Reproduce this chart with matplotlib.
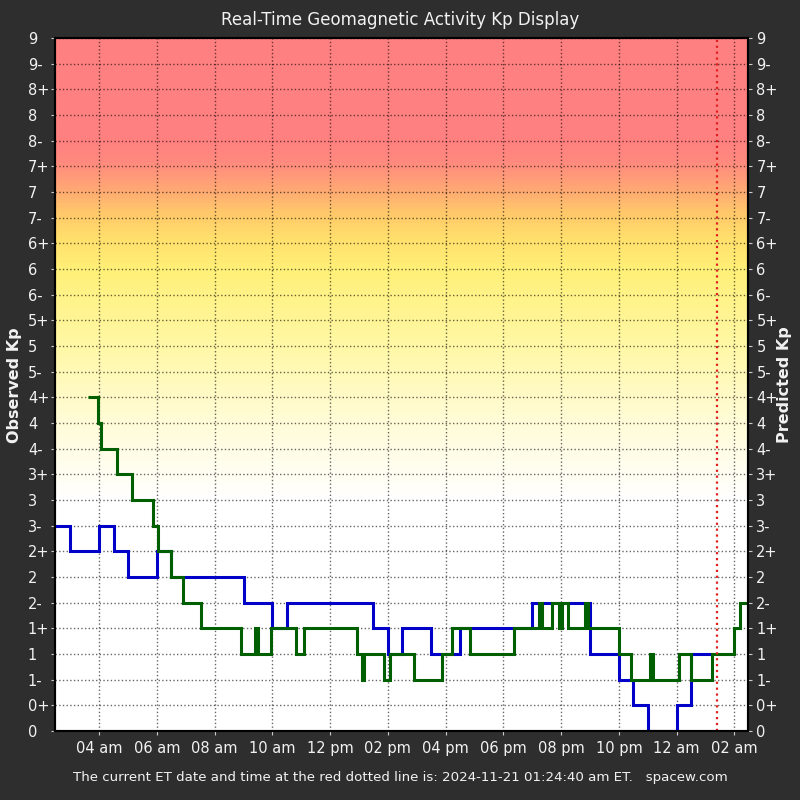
"""Real-time Kp display: observed vs predicted geomagnetic activity over the last day."""

import matplotlib

matplotlib.use("Agg")

import matplotlib.pyplot as plt
import numpy as np
from matplotlib.colors import LinearSegmentedColormap

# Kp levels in thirds, bottom to top
KP_LABELS = [
    "0", "0+", "1-", "1", "1+", "2-", "2", "2+", "3-", "3", "3+", "4-", "4", "4+",
    "5-", "5", "5+", "6-", "6", "6+", "7-", "7", "7+", "8-", "8", "8+", "9-", "9",
]

# Hours since 2024-11-20 00:00 ET
HOUR_TICKS = [4, 6, 8, 10, 12, 14, 16, 18, 20, 22, 24, 26]
HOUR_LABELS = [
    "04 am", "06 am", "08 am", "10 am", "12 pm", "02 pm",
    "04 pm", "06 pm", "08 pm", "10 pm", "12 am", "02 am",
]

# Observed Kp (green): start hour of each step
obs_start = [
    3.63, 3.97, 4.08, 4.63, 5.12, 5.85, 6.02, 6.5, 6.92, 7.54,
    8.90, 9.38, 9.49, 9.94, 10.80, 11.08, 12.92, 13.09, 13.16, 13.85,
    14.06, 14.89, 15.86, 16.21, 16.83, 18.36, 19.23, 19.33, 19.68, 19.92,
    20.02, 20.23, 20.82, 20.92, 22.0, 22.41, 23.07, 23.18, 24.08, 24.5,
    25.22, 25.98, 26.19,
]
obs_kp = [
    "4+", "4", "4-", "3+", "3", "3-", "2+", "2", "2-", "1+",
    "1", "1+", "1", "1+", "1", "1+", "1", "1-", "1", "1-",
    "1", "1-", "1", "1+", "1", "1+", "2-", "1+", "2-", "1+",
    "2-", "1+", "2-", "1+", "1", "1-", "1", "1-", "1", "1-",
    "1", "1+", "2-",
]
obs_end = 26.47

# Predicted Kp (blue): start hour of each step
pred_start = [
    2.47, 3.0, 4.0, 4.5, 5.0, 6.0, 6.5, 9.0, 10.0, 10.5, 13.5,
    14.0, 14.5, 15.5, 16.5, 19.0, 21.0, 22.0, 22.5, 23.0, 24.0, 24.5,
]
pred_kp = [
    "3-", "2+", "3-", "2+", "2", "2+", "2", "2-", "1+", "2-", "1+",
    "1", "1+", "1", "1+", "2-", "1", "1-", "0+", "0", "0+", "1",
]
pred_end = 25.27

now_hour = 25 + 24 / 60 + 40 / 3600  # 2024-11-21 01:24:40 am ET
x_range = (2.47, 26.47)

# Background shading by Kp level
_BG_STOPS = [
    (0.0, "#ffffff"),
    (3.0, "#ffffff"),
    (4.0, "#fffcd8"),
    (5.0, "#fff8a6"),
    (6.0, "#fff078"),
    (6.4, "#ffe06c"),
    (6.75, "#ffc86a"),
    (7.05, "#ffa874"),
    (7.4, "#ff8a7e"),
    (7.7, "#ff8080"),
    (9.0, "#ff8080"),
]

FIG_BG = "#2e2e2e"
TEXT_COLOR = "#f2f2f2"


def kp_value(label: str) -> float:
    """Convert a Kp label like '3-' or '2+' to its numeric value."""
    offset = {"+": 1 / 3, "-": -1 / 3}.get(label[1:], 0.0)
    return int(label[0]) + offset


bg_cmap = LinearSegmentedColormap.from_list(
    "kp_bg", [(kp / 9.0, color) for kp, color in _BG_STOPS]
)

fig = plt.figure(figsize=(8, 8), dpi=100, facecolor=FIG_BG)
ax = fig.add_axes([55 / 800, 69 / 800, 693 / 800, 693 / 800])

kp_grid = np.linspace(0, 9, 600).reshape(-1, 1)
ax.imshow(
    kp_grid,
    origin="lower",
    extent=(x_range[0], x_range[1], 0, 9),
    aspect="auto",
    cmap=bg_cmap,
    vmin=0,
    vmax=9,
    zorder=0,
)

ax.stairs(
    [kp_value(k) for k in pred_kp],
    pred_start + [pred_end],
    baseline=None,
    color="#0000c8",
    linewidth=2.2,
    zorder=3,
)
ax.stairs(
    [kp_value(k) for k in obs_kp],
    obs_start + [obs_end],
    baseline=None,
    color="#005f00",
    linewidth=2.2,
    zorder=4,
)
ax.axvline(now_hour, color="#e02020", linestyle=":", linewidth=1.6, zorder=5)

ax.set_xlim(*x_range)
ax.set_ylim(0, 9)
ax.set_xticks(HOUR_TICKS)
ax.set_xticklabels(HOUR_LABELS)
ax.set_yticks(np.arange(len(KP_LABELS)) / 3)
ax.set_yticklabels(KP_LABELS, ha="left")

ax.grid(True, color="black", alpha=0.6, linestyle=":", linewidth=1.0)
for spine in ax.spines.values():
    spine.set_color("black")
    spine.set_linewidth(1.5)

ax.tick_params(axis="x", colors="#cccccc", labelcolor=TEXT_COLOR, labelsize=10.5, length=3, pad=4)
ax.tick_params(axis="y", colors="#cccccc", labelcolor=TEXT_COLOR, labelsize=10.5, length=3, pad=16.5)

# Right-hand axis mirrors the Kp scale
ax_right = ax.twinx()
ax_right.set_ylim(0, 9)
ax_right.set_yticks(np.arange(len(KP_LABELS)) / 3)
ax_right.set_yticklabels(KP_LABELS)
ax_right.tick_params(axis="y", colors="#cccccc", labelcolor=TEXT_COLOR, labelsize=10.5, length=3, pad=3)
for spine in ax_right.spines.values():
    spine.set_color("black")
    spine.set_linewidth(1.5)

fig.text(0.5, 1 - 20 / 800, "Real-Time Geomagnetic Activity Kp Display",
         ha="center", va="center", color=TEXT_COLOR, fontsize=12)
fig.text(14 / 800, 0.5 + 15 / 800, "Observed Kp", rotation=90, ha="center", va="center",
         color=TEXT_COLOR, fontsize=11.5, fontweight="bold")
fig.text(785 / 800, 0.5 + 15 / 800, "Predicted Kp", rotation=90, ha="center", va="center",
         color=TEXT_COLOR, fontsize=11.5, fontweight="bold")
fig.text(
    0.5, 1 - 778 / 800,
    "The current ET date and time at the red dotted line is: 2024-11-21 01:24:40 am ET.   spacew.com",
    ha="center", va="center", color=TEXT_COLOR, fontsize=9.6,
)

fig.savefig("out.png", dpi=100, facecolor=FIG_BG)
